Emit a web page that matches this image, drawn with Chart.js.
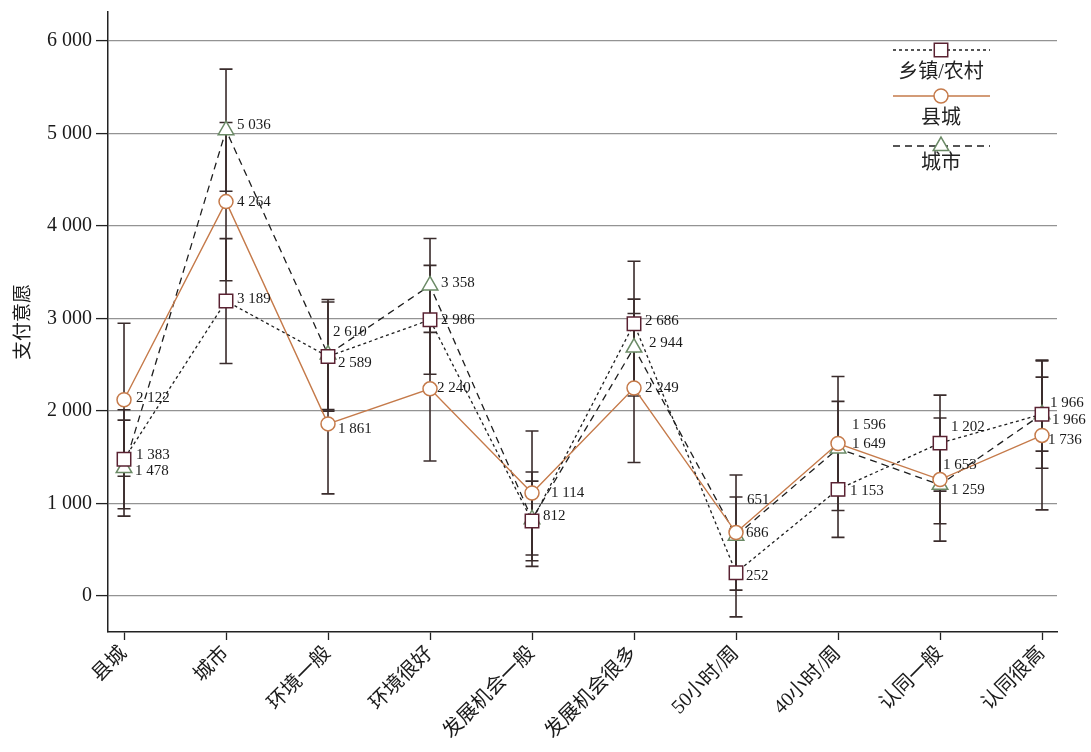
<!DOCTYPE html>
<html>
<head>
<meta charset="utf-8">
<script src="https://cdn.jsdelivr.net/npm/chart.js@4.4.1/dist/chart.umd.min.js"></script>
<style>
html, body { margin:0; padding:0; background:#fff; }
</style>
</head>
<body>
<canvas id="chart" width="1091" height="752"></canvas>
<script>
// categories and series
var categories = ['县城', '城市', '环境一般', '环境很好', '发展机会一般', '发展机会很多', '50小时/周', '40小时/周', '认同一般', '认同很高'];
var seriesNames = ['乡镇/农村', '县城', '城市'];

// means (marker positions)
var ruralValues  = [1478, 3189, 2589, 2986, 812, 2944, 252, 1153, 1653, 1966];
var countyValues = [2122, 4264, 1861, 2240, 1114, 2249, 686, 1649, 1259, 1736];
var cityValues   = [1383, 5036, 2610, 3358, 830, 2686, 651, 1596, 1202, 1966];

// error bar half widths
var ruralErr  = [535, 675, 590, 589, 430, 676, 478, 519, 519, 584];
var countyErr = [827, 855, 757, 780, 670, 805, 622, 724, 665, 805];
var cityErr   = [519, 660, 595, 508, 510, 524, 420, 508, 420, 400];

// printed value labels
var ruralLabels  = ['1 383', '3 189', '2 589', '2 986', '812', '2 686', '252', '1 153', '1 202', '1 966'];
var countyLabels = ['2 122', '4 264', '1 861', '2 240', '1 114', '2 249', '686', '1 649', '1 653', '1 736'];
var cityLabels   = ['1 478', '5 036', '2 610', '3 358', '', '2 944', '651', '1 596', '1 259', '1 966'];

var yTicks = [0, 1000, 2000, 3000, 4000, 5000, 6000];

// label offsets from the marker (px)
var labelNudge = [
    [[12,-4],[11,-2],[10,7],[11,0],[11,-5],[11,-3],[10,3],[12,2],[11,-16],[8,-11]],
    [[12,-2],[11,0],[10,5],[7,-1],[19,0],[11,0],[10,0],[14,1],[3,-15],[6,5]],
    [[11,3],[11,-5],[5,-23],[11,-2],[11,0],[15,-5],[11,-36],[14,-23],[11,5],[10,6]]
];

var serif = "'Liberation Serif', 'Noto Sans CJK SC', serif";

function fmt(v) {
    return String(v).replace(/\B(?=(\d{3})+(?!\d))/g, ' ');
}
function pts(arr) {
    return arr.map(function(v, i){ return {x: i, y: v}; });
}

var errs = [ruralErr, countyErr, cityErr];
var vals = [ruralValues, countyValues, cityValues];
var texts = [ruralLabels, countyLabels, cityLabels];

var errorBars = {
    id: 'errorBars',
    beforeDatasetsDraw: function(chart) {
        var ctx = chart.ctx, xs = chart.scales.x, ys = chart.scales.y;
        ctx.save();
        ctx.strokeStyle = '#3a2c2c';
        ctx.lineWidth = 1.6;
        for (var s = 0; s < vals.length; s++) {
            for (var i = 0; i < vals[s].length; i++) {
                var x = xs.getPixelForValue(i);
                var y1 = ys.getPixelForValue(vals[s][i] + errs[s][i]);
                var y2 = ys.getPixelForValue(vals[s][i] - errs[s][i]);
                ctx.beginPath();
                ctx.moveTo(x, y1); ctx.lineTo(x, y2);
                ctx.moveTo(x - 6.5, y1); ctx.lineTo(x + 6.5, y1);
                ctx.moveTo(x - 6.5, y2); ctx.lineTo(x + 6.5, y2);
                ctx.stroke();
            }
        }
        ctx.restore();
    }
};

var valueLabels = {
    id: 'valueLabels',
    afterDatasetsDraw: function(chart) {
        var ctx = chart.ctx;
        ctx.save();
        ctx.font = '15px ' + serif;
        ctx.fillStyle = '#1a1a1a';
        ctx.textBaseline = 'middle';
        ctx.textAlign = 'left';
        for (var s = 0; s < texts.length; s++) {
            var meta = chart.getDatasetMeta(s);
            meta.data.forEach(function(p, i) {
                var n = labelNudge[s][i];
                ctx.fillText(texts[s][i], p.x + n[0], p.y + n[1]);
            });
        }
        ctx.restore();
    }
};

var sideLegend = {
    id: 'sideLegend',
    afterDraw: function(chart) {
        var ctx = chart.ctx;
        var rows = [[50, 73], [96, 119], [146, 164]];
        ctx.save();
        chart.data.datasets.forEach(function(ds, k) {
            var ly = rows[k][0], ty = rows[k][1];
            ctx.strokeStyle = ds.borderColor;
            ctx.lineWidth = ds.borderWidth;
            ctx.setLineDash(ds.borderDash || []);
            ctx.beginPath();
            ctx.moveTo(893, ly); ctx.lineTo(990, ly);
            ctx.stroke();
            ctx.setLineDash([]);
            ctx.fillStyle = '#fff';
            ctx.strokeStyle = ds.pointBorderColor;
            ctx.lineWidth = ds.pointBorderWidth;
            Chart.helpers.drawPoint(ctx, {pointStyle: ds.pointStyle, radius: ds.pointRadius, borderWidth: ds.pointBorderWidth, rotation: 0}, 941, ly);
            ctx.fillStyle = '#222';
            ctx.font = '20px ' + serif;
            ctx.textAlign = 'center';
            ctx.textBaseline = 'middle';
            ctx.fillText(ds.label, 941, ty);
        });
        ctx.restore();
    }
};

var chart = new Chart(document.getElementById('chart').getContext('2d'), {
    type: 'line',
    data: {
        datasets: [{
            label: seriesNames[0],
            data: pts(ruralValues),
            borderColor: '#1e1e1e',
            borderWidth: 1.3,
            borderDash: [3, 3],
            pointStyle: 'rect',
            pointRadius: 9.5,
            pointBorderColor: '#5a2232',
            pointBackgroundColor: '#fff',
            pointBorderWidth: 1.5,
            order: 0
        }, {
            label: seriesNames[1],
            data: pts(countyValues),
            borderColor: '#c57a4a',
            borderWidth: 1.4,
            pointStyle: 'circle',
            pointRadius: 7,
            pointBorderColor: '#c57a4a',
            pointBackgroundColor: '#fff',
            pointBorderWidth: 1.5,
            order: 1
        }, {
            label: seriesNames[2],
            data: pts(cityValues),
            borderColor: '#1e1e1e',
            borderWidth: 1.3,
            borderDash: [7, 5],
            pointStyle: 'triangle',
            pointRadius: 9,
            pointBorderColor: '#6b8a66',
            pointBackgroundColor: '#fff',
            pointBorderWidth: 1.5,
            order: 2
        }]
    },
    options: {
        responsive: false,
        animation: false,
        devicePixelRatio: 1,
        layout: { padding: { top: 12, right: 34, left: 0, bottom: 0 } },
        plugins: { legend: { display: false }, tooltip: { enabled: false } },
        scales: {
            x: {
                type: 'linear',
                min: -0.157,
                max: 9.147,
                afterBuildTicks: function(s) {
                    s.ticks = categories.map(function(c, i){ return {value: i}; });
                },
                afterFit: function(s) {
                    s.height = 120;
                    s.paddingLeft = 0; s.paddingRight = 0;
                },
                grid: { drawOnChartArea: false, drawTicks: true, tickLength: 8, tickColor: '#222', tickWidth: 1.3 },
                border: { display: true, color: '#222', width: 1.5 },
                ticks: {
                    autoSkip: false,
                    minRotation: 45,
                    maxRotation: 45,
                    padding: 2,
                    color: '#1a1a1a',
                    font: { family: serif, size: 20 },
                    callback: function(v) { return categories[v]; }
                }
            },
            y: {
                min: -389,
                max: 6314,
                afterBuildTicks: function(s) {
                    s.ticks = yTicks.map(function(v){ return {value: v}; });
                },
                afterFit: function(s) {
                    s.width = 108;
                    s.paddingTop = 0; s.paddingBottom = 0;
                },
                grid: { color: '#939393', lineWidth: 1.2, tickLength: 12, tickColor: '#222', tickWidth: 1.3 },
                border: { display: true, color: '#222', width: 1.5 },
                ticks: {
                    padding: 4,
                    color: '#1a1a1a',
                    font: { family: serif, size: 20 },
                    callback: function(v) { return fmt(v); }
                },
                title: {
                    display: true,
                    text: '支付意愿',
                    color: '#1a1a1a',
                    font: { family: serif, size: 19 },
                    padding: { top: 13, bottom: 0 }
                }
            }
        }
    },
    plugins: [errorBars, valueLabels, sideLegend]
});
</script>
</body>
</html>
